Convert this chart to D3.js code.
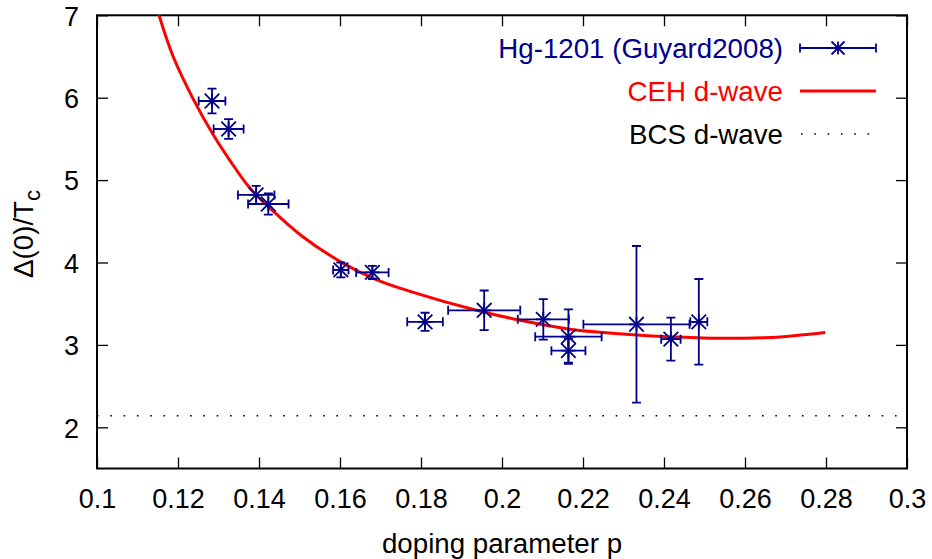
<!DOCTYPE html>
<html>
<head>
<meta charset="utf-8">
<script src="https://cdn.jsdelivr.net/npm/d3@7/dist/d3.min.js"></script>
<style>
  html, body { margin: 0; padding: 0; background: #fff; }
  svg { display: block; }
  text { font-family: "Liberation Sans", Arial, Helvetica, sans-serif; }
</style>
</head>
<body>
<div id="chart"></div>
<script>
// ---- data ----
const dopingP    = [0.1284, 0.1325, 0.1393, 0.1423, 0.1602, 0.1680, 0.1810, 0.1956, 0.2102, 0.2164, 0.2164, 0.2332, 0.2417, 0.2486];
const gapRatio   = [5.96, 5.62, 4.82, 4.71, 3.91, 3.88, 3.28, 3.42, 3.31, 3.10, 2.93, 3.25, 3.07, 3.28];
const dopingErr  = [0.0033, 0.0037, 0.0045, 0.0050, 0.0019, 0.0040, 0.0044, 0.0089, 0.0063, 0.0082, 0.0042, 0.0131, 0.0024, 0.0021];
const gapErr     = [0.15, 0.12, 0.11, 0.13, 0.09, 0.08, 0.11, 0.24, 0.245, 0.33, 0.146, 0.95, 0.26, 0.52];

const cehP   = [0.1150, 0.1188, 0.1238, 0.1287, 0.1328, 0.1378, 0.1427, 0.1509, 0.1608, 0.1691, 0.1773, 0.1937, 0.2044, 0.2168, 0.2333, 0.2497, 0.2596, 0.2695, 0.2798];
const cehVal = [7.05, 6.50, 5.98, 5.55, 5.24, 4.90, 4.66, 4.31, 3.99, 3.79, 3.65, 3.42, 3.30, 3.19, 3.12, 3.085, 3.08, 3.10, 3.15];

const bcsValue = 2.14;

const xTicks = [0.1, 0.12, 0.14, 0.16, 0.18, 0.2, 0.22, 0.24, 0.26, 0.28, 0.3];
const xTickLabels = ["0.1", "0.12", "0.14", "0.16", "0.18", "0.2", "0.22", "0.24", "0.26", "0.28", "0.3"];
const yTicks = [2, 3, 4, 5, 6, 7];
const yTickLabels = ["2", "3", "4", "5", "6", "7"];

const legendLabels = ["Hg-1201 (Guyard2008)", "CEH d-wave", "BCS d-wave"];

// ---- layout ----
const W = 932, H = 559;
const pL = 97, pR = 907, pT = 15.3, pB = 468.5;
const FS = 27, FSL = 27.7;
const blue = "#00008b";

const svg = d3.select("#chart").append("svg").attr("width", W).attr("height", H);

const x = d3.scaleLinear().domain([0.1, 0.3]).range([pL, pR]);
const y = d3.scaleLinear().domain([1.5, 7]).range([pB, pT]);

svg.append("defs").append("clipPath").attr("id", "clip")
  .append("rect").attr("x", pL).attr("y", pT).attr("width", pR - pL).attr("height", pB - pT);

const tickLen = 11;
const xAxisB = d3.axisBottom(x).tickValues(xTicks).tickFormat((d, i) => xTickLabels[i]).tickSizeInner(-tickLen).tickSizeOuter(0);
const xAxisT = d3.axisTop(x).tickValues(xTicks).tickFormat("").tickSizeInner(-tickLen).tickSizeOuter(0);
const yAxisL = d3.axisLeft(y).tickValues(yTicks).tickFormat((d, i) => yTickLabels[i]).tickSizeInner(-tickLen).tickSizeOuter(0);
const yAxisR = d3.axisRight(y).tickValues(yTicks).tickFormat("").tickSizeInner(-tickLen).tickSizeOuter(0);

function styleAxis(g) {
  g.select(".domain").remove();
  g.selectAll(".tick line").attr("stroke", "#000").attr("stroke-width", 1.3);
  g.selectAll(".tick text").attr("fill", "#000").style("font-size", FS + "px")
    .style("font-family", "'Liberation Sans', Arial, sans-serif");
}
const gxb = svg.append("g").attr("transform", `translate(0,${pB})`).call(xAxisB).call(styleAxis);
gxb.selectAll(".tick text").attr("y", 30).attr("dy", "0.36em");
svg.append("g").attr("transform", `translate(0,${pT})`).call(xAxisT).call(styleAxis);
const gyl = svg.append("g").attr("transform", `translate(${pL},0)`).call(yAxisL).call(styleAxis);
gyl.selectAll(".tick text").attr("x", -18).attr("dy", "0.36em");
svg.append("g").attr("transform", `translate(${pR},0)`).call(yAxisR).call(styleAxis);

// border
svg.append("rect").attr("x", pL).attr("y", pT).attr("width", pR - pL).attr("height", pB - pT)
  .attr("fill", "none").attr("stroke", "#000").attr("stroke-width", 2);

const plot = svg.append("g").attr("clip-path", "url(#clip)");

// BCS dotted line
plot.append("line").attr("x1", x(0.1)).attr("x2", x(0.3)).attr("y1", y(bcsValue)).attr("y2", y(bcsValue))
  .attr("stroke", "#000").attr("stroke-width", 1.6).attr("stroke-dasharray", "1.6,11.7");

// CEH curve
const cehData = cehP.map((p, i) => [p, cehVal[i]]);
plot.append("path").datum(cehData)
  .attr("d", d3.line().x(d => x(d[0])).y(d => y(d[1])).curve(d3.curveCatmullRom.alpha(0.5)))
  .attr("fill", "none").attr("stroke", "#ff0000").attr("stroke-width", 3);

// data with error bars
const cap = 4.5, s = 7.3;
function drawPoint(g, cx, cy, x0, x1, y0, y1, m) {
  const L = (a, b, c, d) => g.append("line").attr("x1", a).attr("y1", b).attr("x2", c).attr("y2", d)
    .attr("stroke", blue).attr("stroke-width", 1.8);
  if (x0 !== null) {
    L(x0, cy, x1, cy); L(x0, cy - cap, x0, cy + cap); L(x1, cy - cap, x1, cy + cap);
  }
  if (y0 !== null) {
    L(cx, y0, cx, y1); L(cx - cap, y0, cx + cap, y0); L(cx - cap, y1, cx + cap, y1);
  }
  L(cx - m, cy, cx + m, cy); L(cx, cy - m, cx, cy + m);
  L(cx - m, cy - m, cx + m, cy + m); L(cx - m, cy + m, cx + m, cy - m);
}
const pts = plot.append("g");
dopingP.forEach((p, i) => {
  drawPoint(pts, x(p), y(gapRatio[i]),
    x(p - dopingErr[i]), x(p + dopingErr[i]),
    y(gapRatio[i] + gapErr[i]), y(gapRatio[i] - gapErr[i]), s);
});

// legend
const legTextX = 783, sx0 = 800, sx1 = 876;
const rowsY = [48, 91, 134];
const legColors = [blue, "#ff0000", "#000"];
legendLabels.forEach((t, i) => {
  svg.append("text").attr("x", legTextX).attr("y", rowsY[i]).attr("dy", "0.36em")
    .attr("text-anchor", "end").attr("fill", legColors[i]).style("font-size", FSL + "px").text(t);
});
const lg = svg.append("g");
drawPoint(lg, (sx0 + sx1) / 2, rowsY[0], sx0, sx1, null, null, 6.5);
lg.append("line").attr("x1", sx0).attr("x2", sx1).attr("y1", rowsY[1]).attr("y2", rowsY[1])
  .attr("stroke", "#ff0000").attr("stroke-width", 3);
lg.append("line").attr("x1", sx0 + 1).attr("x2", sx1).attr("y1", rowsY[2]).attr("y2", rowsY[2])
  .attr("stroke", "#000").attr("stroke-width", 1.6).attr("stroke-dasharray", "1.6,11.7");

// axis titles
svg.append("text").attr("x", (pL + pR) / 2).attr("y", 543).attr("dy", "0.36em")
  .attr("text-anchor", "middle").attr("fill", "#000").style("font-size", FSL + "px").text("doping parameter p");

const yl = svg.append("text").attr("transform", `translate(33,${(pT + pB) / 2 - 8}) rotate(-90)`)
  .attr("text-anchor", "middle").attr("fill", "#000").style("font-size", FSL + "px");
yl.append("tspan").text("Δ(0)/T");
yl.append("tspan").attr("dy", "0.3em").style("font-size", (FSL * 0.8) + "px").text("c");
</script>
</body>
</html>
